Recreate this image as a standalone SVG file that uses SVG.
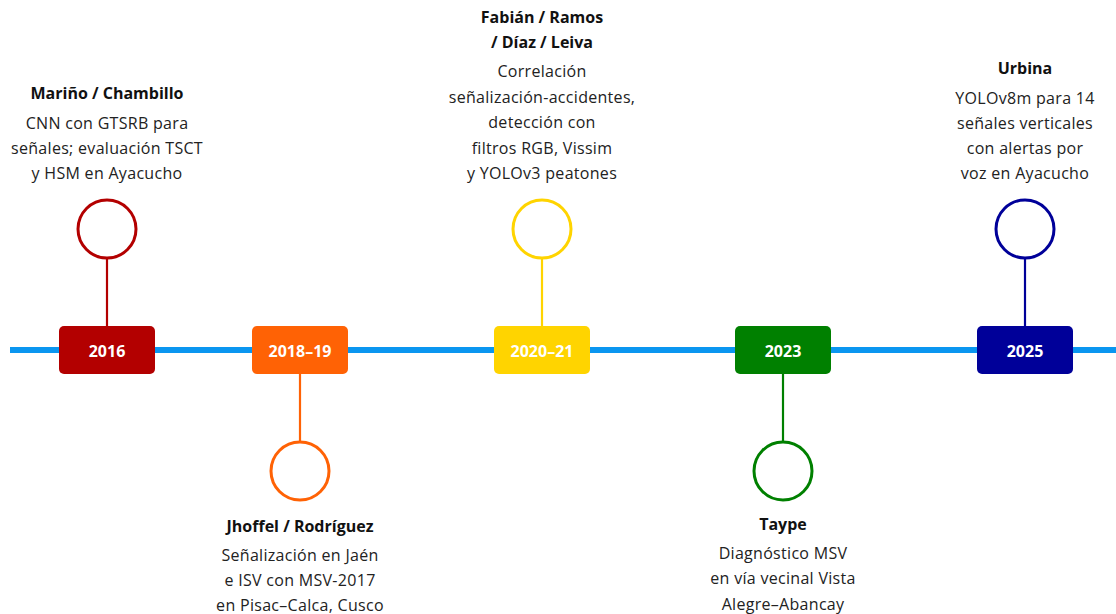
<svg xmlns="http://www.w3.org/2000/svg" width="1116" height="614" viewBox="0 0 1116 614">
  <style>
    .axis { stroke: #0a96f0; stroke-width: 6; }
    .stem { stroke-width: 2.2; fill: none; }
    .dot { fill: #ffffff; stroke-width: 3; }
    .year { font-family: "Open Sans", "Noto Sans", sans-serif; font-weight: 700; font-size: 16px; fill: #ffffff; text-anchor: middle; }
    .title { font-family: "Open Sans", "Noto Sans", sans-serif; font-weight: 700; font-size: 16px; fill: #111111; text-anchor: middle; }
    .body { font-family: "Open Sans", "Noto Sans", sans-serif; font-size: 16px; letter-spacing: 0.3px; fill: #222222; text-anchor: middle; }
  </style>
  <rect width="1116" height="614" fill="#ffffff"/>

  <!-- main time axis and the stems joining each year to its marker -->
  <g id="connectors">
    <line class="axis" x1="10" y1="350" x2="1116" y2="350"/>
    <line class="stem" stroke="#b30000" x1="107" y1="258" x2="107" y2="326"/>
    <line class="stem" stroke="#ff6205" x1="300" y1="374" x2="300" y2="442"/>
    <line class="stem" stroke="#ffd400" x1="542" y1="258" x2="542" y2="326"/>
    <line class="stem" stroke="#008000" x1="783" y1="374" x2="783" y2="442"/>
    <line class="stem" stroke="#000099" x1="1025" y1="258" x2="1025" y2="326"/>
  </g>

  <g id="n2016">
    <circle class="dot" stroke="#b30000" cx="107" cy="229" r="29"/>
    <rect x="59" y="326" width="96" height="48" rx="5" fill="#b30000"/>
    <text class="year" x="107" y="357">2016</text>
    <text class="title" x="107" y="99">Mariño / Chambillo</text>
    <text class="body" x="107" y="129">CNN con GTSRB para</text>
    <text class="body" x="107" y="154">señales; evaluación TSCT</text>
    <text class="body" x="107" y="179">y HSM en Ayacucho</text>
  </g>

  <g id="n2018">
    <circle class="dot" stroke="#ff6205" cx="300" cy="471" r="29"/>
    <rect x="252" y="326" width="96" height="48" rx="5" fill="#ff6205"/>
    <text class="year" x="300" y="357">2018–19</text>
    <text class="title" x="300" y="532">Jhoffel / Rodríguez</text>
    <text class="body" x="300" y="561">Señalización en Jaén</text>
    <text class="body" x="300" y="586">e ISV con MSV-2017</text>
    <text class="body" x="300" y="611">en Pisac–Calca, Cusco</text>
  </g>

  <g id="n2020">
    <circle class="dot" stroke="#ffd400" cx="542" cy="229" r="29"/>
    <rect x="494" y="326" width="96" height="48" rx="5" fill="#ffd400"/>
    <text class="year" x="542" y="357">2020–21</text>
    <text class="title" x="542" y="23">Fabián / Ramos</text>
    <text class="title" x="542" y="48">/ Díaz / Leiva</text>
    <text class="body" x="542" y="77">Correlación</text>
    <text class="body" x="542" y="103">señalización-accidentes,</text>
    <text class="body" x="542" y="128">detección con</text>
    <text class="body" x="542" y="154">filtros RGB, Vissim</text>
    <text class="body" x="542" y="179">y YOLOv3 peatones</text>
  </g>

  <g id="n2023">
    <circle class="dot" stroke="#008000" cx="783" cy="471" r="29"/>
    <rect x="735" y="326" width="96" height="48" rx="5" fill="#008000"/>
    <text class="year" x="783" y="357">2023</text>
    <text class="title" x="783" y="530">Taype</text>
    <text class="body" x="783" y="559">Diagnóstico MSV</text>
    <text class="body" x="783" y="584">en vía vecinal Vista</text>
    <text class="body" x="783" y="610">Alegre–Abancay</text>
  </g>

  <g id="n2025">
    <circle class="dot" stroke="#000099" cx="1025" cy="229" r="29"/>
    <rect x="977" y="326" width="96" height="48" rx="5" fill="#000099"/>
    <text class="year" x="1025" y="357">2025</text>
    <text class="title" x="1025" y="74">Urbina</text>
    <text class="body" x="1025" y="104">YOLOv8m para 14</text>
    <text class="body" x="1025" y="129">señales verticales</text>
    <text class="body" x="1025" y="154">con alertas por</text>
    <text class="body" x="1025" y="179">voz en Ayacucho</text>
  </g>
</svg>
